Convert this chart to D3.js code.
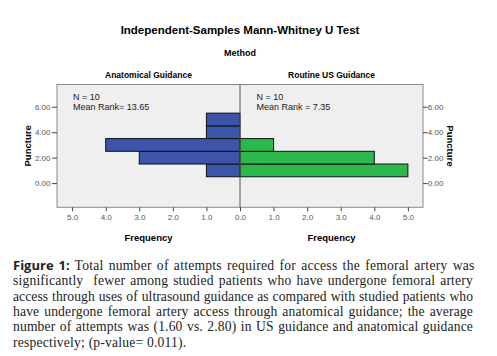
<!DOCTYPE html>
<html><head><meta charset="utf-8">
<script src="https://cdn.jsdelivr.net/npm/d3@7"></script>
<style>
html,body{margin:0;padding:0;background:#fff;}
svg{display:block;}
</style></head>
<body>
<svg id="chart" width="497" height="356"></svg>
<script>
// Data
const bins = [1, 2, 3, 4, 5];                 // Puncture value (bin centres)
const anatomicalCounts = [1, 3, 4, 1, 1];     // Anatomical Guidance frequencies
const usCounts = [5, 4, 1, 0, 0];             // Routine US Guidance frequencies
const yTicks = [0, 2, 4, 6];
const xTicks = [0, 1, 2, 3, 4, 5];
const groups = ["Anatomical Guidance", "Routine US Guidance"];
const stats = [["N = 10", "Mean Rank= 13.65"], ["N = 10", "Mean Rank = 7.35"]];
const captionLines = [
  "Total number of attempts required for access the femoral artery was",
  "significantly  fewer among studied patients who have undergone femoral artery",
  "access through uses of ultrasound guidance as compared with studied patients who",
  "have undergone femoral artery access through anatomical guidance; the average",
  "number of attempts was (1.60 vs. 2.80) in US guidance and anatomical guidance",
  "respectively; (p-value= 0.011)."
];

const svg = d3.select("#chart");
const sans = "'Liberation Sans', Arial, sans-serif";
const pTop = 84.5, pBottom = 207.3, pMid = 240, pLeft = 57, pRight = 423;

const y = d3.scaleLinear().domain([-1.9, 7.75]).range([pBottom, pTop]);
const xL = d3.scaleLinear().domain([0, 5.45]).range([pMid, pLeft]);
const xR = d3.scaleLinear().domain([0, 5.45]).range([pMid, pRight]);

// Titles
svg.append("text").attr("x", 240).attr("y", 34).attr("text-anchor", "middle")
  .style("font-family", sans).style("font-size", "11.5px").style("font-weight", "bold")
  .text("Independent-Samples Mann-Whitney U Test");
svg.append("text").attr("x", 240).attr("y", 55.5).attr("text-anchor", "middle")
  .style("font-family", sans).style("font-size", "9px").style("font-weight", "bold")
  .text("Method");
[[xL, groups[0]], [xR, groups[1]]].forEach(([sc, g]) => {
  svg.append("text").attr("x", (sc(0) + sc(5.45)) / 2).attr("y", 78).attr("text-anchor", "middle")
    .style("font-family", sans).style("font-size", "8.5px").style("font-weight", "bold")
    .text(g);
});

// Plot background
svg.append("rect").attr("x", pLeft).attr("y", pTop).attr("width", pRight - pLeft).attr("height", pBottom - pTop)
  .attr("fill", "#efefef").attr("stroke", "#8a8a8a").attr("stroke-width", 1);

// Bars
const barData = (counts) => bins.map((b, i) => ({b, c: counts[i]})).filter(d => d.c > 0);
svg.append("g").selectAll("rect").data(barData(anatomicalCounts)).join("rect")
  .attr("x", d => xL(d.c)).attr("width", d => xL(0) - xL(d.c))
  .attr("y", d => y(d.b + 0.5)).attr("height", d => y(d.b - 0.5) - y(d.b + 0.5))
  .attr("fill", "#3c55a9").attr("stroke", "#111").attr("stroke-width", 1);
svg.append("g").selectAll("rect").data(barData(usCounts)).join("rect")
  .attr("x", xR(0)).attr("width", d => xR(d.c) - xR(0))
  .attr("y", d => y(d.b + 0.5)).attr("height", d => y(d.b - 0.5) - y(d.b + 0.5))
  .attr("fill", "#2db84c").attr("stroke", "#111").attr("stroke-width", 1);

// Divider
svg.append("line").attr("x1", pMid).attr("x2", pMid).attr("y1", pTop).attr("y2", pBottom)
  .attr("stroke", "#555").attr("stroke-width", 1);

// Stats text
[0, 1].forEach((i) => {
  const x0 = i === 0 ? pLeft + 16 : pMid + 16.5;
  stats[i].forEach((s, j) => {
    svg.append("text").attr("x", x0).attr("y", 100 + j * 9.5)
      .style("font-family", sans).style("font-size", "9px").attr("fill", "#222").text(s);
  });
});

// Axes
function styleAxis(g) {
  g.select(".domain").remove();
  g.selectAll("line").attr("stroke", "#444");
  g.selectAll("text").style("font-family", sans).style("font-size", "8px").attr("fill", "#555");
}
svg.append("g").attr("transform", `translate(${pLeft},0)`)
  .call(d3.axisLeft(y).tickValues(yTicks).tickSize(5).tickPadding(1.5).tickFormat(d3.format(".2f")))
  .call(styleAxis);
svg.append("g").attr("transform", `translate(${pRight},0)`)
  .call(d3.axisRight(y).tickValues(yTicks).tickSize(4.5).tickPadding(0.3).tickFormat(d3.format(".2f")))
  .call(styleAxis);
svg.append("g").attr("transform", `translate(0,${pBottom})`)
  .call(d3.axisBottom(xL).tickValues(xTicks).tickSize(4).tickPadding(3).tickFormat(d3.format(".1f")))
  .call(styleAxis);
svg.append("g").attr("transform", `translate(0,${pBottom})`)
  .call(d3.axisBottom(xR).tickValues(xTicks.slice(1)).tickSize(4).tickPadding(3).tickFormat(d3.format(".1f")))
  .call(styleAxis);

// Axis titles
[xL, xR].forEach((sc) => {
  svg.append("text").attr("x", (sc(0) + sc(5.45)) / 2).attr("y", 241)
    .attr("text-anchor", "middle").style("font-family", sans).style("font-size", "9.5px").style("font-weight", "bold")
    .text("Frequency");
});
svg.append("text").attr("transform", `translate(30.5,${(pTop + pBottom) / 2}) rotate(-90)`)
  .attr("text-anchor", "middle").style("font-family", sans).style("font-size", "9.5px").style("font-weight", "bold")
  .text("Puncture");
svg.append("text").attr("transform", `translate(446.5,${(pTop + pBottom) / 2}) rotate(90)`)
  .attr("text-anchor", "middle").style("font-family", sans).style("font-size", "9.5px").style("font-weight", "bold")
  .text("Puncture");

// Caption (justified lines)
const capX0 = 13, capX1 = 473, capY0 = 270, capDy = 15.3;
const serif = "'Liberation Serif', 'Times New Roman', serif";
captionLines.forEach((line, i) => {
  const t = svg.append("text").attr("x", capX0).attr("y", capY0 + i * capDy)
    .style("font-family", serif).style("font-size", "13.6px").attr("fill", "#222")
    .style("white-space", "pre");
  let body;
  if (i === 0) {
    t.append("tspan").style("font-family", "'Open Sans', sans-serif").style("font-weight", "bold")
      .style("font-size", "13px").text("Figure 1:");
    body = t.append("tspan").text(" " + line);
  } else {
    body = t; t.text(line);
  }
  const full = (i === 0 ? " " : "") + line;
  const nChars = full.length;
  const w0 = t.node().getComputedTextLength();
  const extra = capX1 - capX0 - w0;
  let ls = Math.max(-0.3, Math.min(0.35, extra * 0.5 / nChars));
  if (i === captionLines.length - 1) ls = 0.2;
  body.style("letter-spacing", ls + "px");
  if (i < captionLines.length - 1) {
    const w = t.node().getComputedTextLength();
    const spaces = (full.match(/ /g) || []).length;
    t.style("word-spacing", ((capX1 - capX0 - w) / spaces) + "px");
  }
});
</script>
</body></html>
